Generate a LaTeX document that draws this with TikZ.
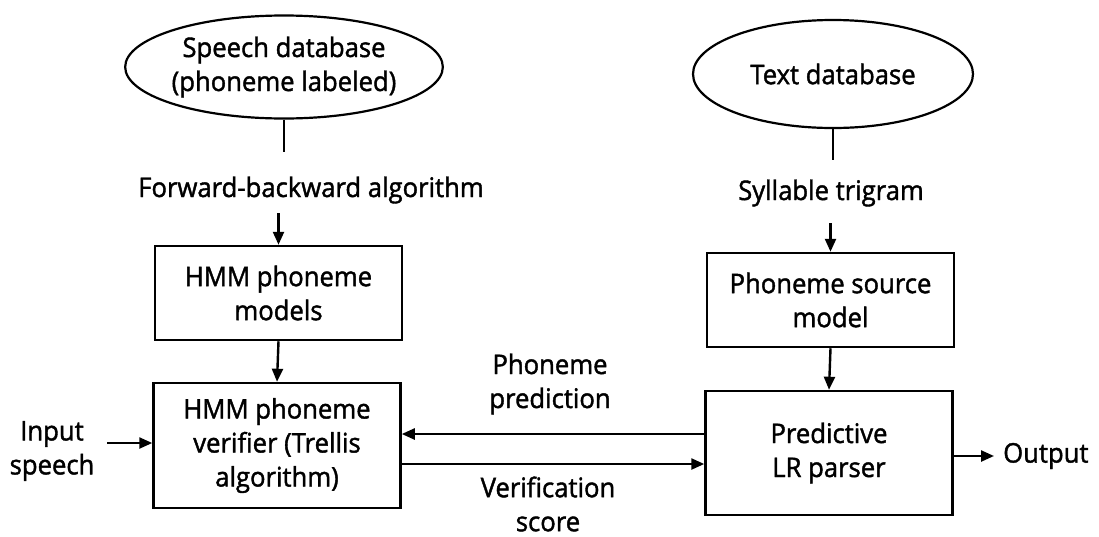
\documentclass[tikz,border=0pt]{standalone}
\usepackage{fontspec}
\setmainfont{Open Sans}[FakeStretch=0.95,FakeBold=1.5]
\usetikzlibrary{arrows.meta,shapes.geometric}
\begin{document}
\begin{tikzpicture}[x=1pt,y=-1pt,
  every node/.style={font=\fontsize{27}{34}\selectfont, align=center, inner sep=0pt},
  boxnode/.style={draw, line width=2.5pt, minimum width=247pt},
  dbnode/.style={draw, ellipse, line width=2.2pt},
  conn/.style={line width=2.4pt},
  arr/.style={line width=2.4pt, -{Triangle[length=13pt,width=11pt]}}]
\useasboundingbox (0,0) rectangle (1099,536);
% databases
\node[dbnode, minimum width=298pt, minimum height=103pt] (speech) at (284,67) {Speech database\\(phoneme labeled)};
\node[dbnode, minimum width=280pt, minimum height=108pt] (textdb) at (833,74) {Text database};
% labels
\node (fwd) at (311,190) {Forward-backward algorithm};
\node (syl) at (831,193) {Syllable trigram};
% boxes
\node[boxnode, minimum height=94pt] (models) at (278.5,293) {HMM phoneme\\models};
\node[boxnode, minimum height=125pt] (verifier) at (277,445.5) {HMM phoneme\\verifier (Trellis\\algorithm)};
\node[boxnode, minimum height=94pt] (source) at (830.5,300) {Phoneme source\\model};
\node[boxnode, minimum height=124pt] (parser) at (829,453) {Predictive\\LR parser};
% side labels
\node (input) at (52,451) {Input\\speech};
\node[anchor=west] (output) at (1003,456) {Output};
\node (pred) at (550,384) {Phoneme\\prediction};
\node (verif) at (548,504) {Verification\\score};
% coordinates for free ends
\coordinate (fwdtop) at (284,152);
\coordinate (fwdbot) at (278.5,213);
\coordinate (syltop) at (833,160);
\coordinate (sylbot) at (830.5,223);
\coordinate (inputend) at (107,443);
\coordinate (outputend) at (994,456);
% connectors
\draw[conn] (speech.south) -- (fwdtop);
\draw[arr] (fwdbot) -- (models.north);
\draw[conn] (textdb.south) -- (syltop);
\draw[arr] (sylbot) -- (source.north);
\draw[arr] (models.south) -- (verifier.north);
\draw[arr] (source.south) -- (parser.north);
\draw[arr] (parser.west |- 0,434) -- (verifier.east |- 0,434);
\draw[arr] (verifier.east |- 0,464) -- (parser.west |- 0,464);
\draw[arr] (inputend) -- (verifier.west |- inputend);
\draw[arr] (parser.east |- outputend) -- (outputend);
\end{tikzpicture}
\end{document}
